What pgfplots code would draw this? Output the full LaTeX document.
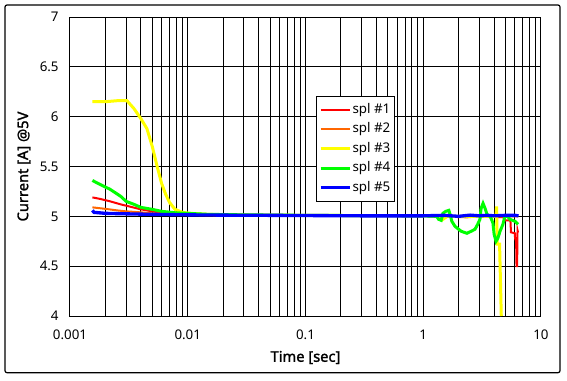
\documentclass[border=0pt]{standalone}
\usepackage{pgfplots}
\pgfplotsset{compat=1.18}
\usepackage{fontspec}
\setmainfont{Noto Sans}
\newfontfamily\labelfont{Noto Sans}[FakeBold=1.6]
\definecolor{cRed}{RGB}{255,0,0}
\definecolor{cOrange}{RGB}{255,102,0}
\definecolor{cYellow}{RGB}{255,255,0}
\definecolor{cGreen}{RGB}{0,255,0}
\definecolor{cBlue}{RGB}{0,0,255}
\begin{document}
\begin{tikzpicture}
\useasboundingbox (-52.5pt,-48pt) rectangle (372.75pt,237pt);
\draw[line width=0.9pt, rounded corners=1.5pt] (-48.75pt,-42.5pt) rectangle (367.5pt,233.25pt);
\begin{axis}[
  scale only axis,
  width=353.25pt, height=224.25pt,
  xmode=log,
  xmin=0.001, xmax=10,
  ymin=4, ymax=7,
  xtick={0.001,0.01,0.1,1,10},
  xticklabels={0.001,0.01,0.1,1,10},
  ytick={4,4.5,5,5.5,6,6.5,7},
  yticklabels={4,4.5,5,5.5,6,6.5,7},
  grid=both,
  major grid style={black, line width=0.75pt},
  minor grid style={black, line width=0.75pt},
  axis line style={black, line width=0.75pt},
  major tick length=0pt, minor tick length=0pt,
  tick label style={font=\fontsize{10}{12}\selectfont},
  xticklabel style={yshift=-7pt},
  yticklabel style={xshift=-5pt},
  /pgf/number format/assume math mode=true,
  every axis x label/.style={at={(axis description cs:0.5,-0.1388)}, anchor=center, font=\fontsize{11}{13}\selectfont\labelfont},
  every axis y label/.style={at={(axis description cs:-0.0977,0.5)}, anchor=center, rotate=90, font=\fontsize{11}{13}\selectfont\labelfont},
  xlabel={Time [sec]},
  ylabel={Current [A] @5V},
  legend cell align=left,
  legend style={at={(axis description cs:0.5217,0.7358)}, anchor=north west,
    draw=black, line width=0.75pt, fill=white,
    font=\fontsize{10}{12}\selectfont,
    inner xsep=2pt, inner ysep=4pt, row sep=2.6pt,
    nodes={inner sep=1pt, text height=7.5pt, text depth=2.5pt}},
  legend image code/.code={\draw[#1] (0pt,0pt) -- (21.75pt,0pt);},
]
\addplot[cRed, line width=1.5pt] coordinates {
(0.00155,5.19) (0.0018,5.175) (0.0022,5.15) (0.0027,5.12) (0.0033,5.095)
(0.004,5.07) (0.005,5.05) (0.006,5.035) (0.008,5.025) (0.012,5.015)
(0.02,5.01) (0.1,5.01) (1,5.005) (2,5.0) (3,5.0) (4.9,4.99) (4.95,4.96)
(5.5,4.96) (5.56,4.84) (6.0,4.83) (6.02,4.78) (6.15,4.75) (6.2,4.5)
(6.27,4.5) (6.32,4.86) (6.38,4.84)
};
\addlegendentry{spl \#1}
\addplot[cOrange, line width=1.5pt] coordinates {
(0.00155,5.09) (0.002,5.075) (0.0025,5.06) (0.003,5.05) (0.004,5.04)
(0.005,5.03) (0.007,5.02) (0.01,5.015) (0.02,5.01) (1,5.005) (2.35,4.99)
(3,5.0) (6.38,5.0)
};
\addlegendentry{spl \#2}
\addplot[cYellow, line width=2.25pt] coordinates {
(0.00155,6.15) (0.002,6.15) (0.0025,6.16) (0.00305,6.16) (0.0035,6.08)
(0.004,5.98) (0.0045,5.88) (0.005,5.7) (0.0055,5.5) (0.006,5.33)
(0.0065,5.22) (0.007,5.14) (0.0078,5.07) (0.009,5.04) (0.0105,5.03)
(0.015,5.02) (0.02,5.015) (0.1,5.01) (1,5.005) (1.44,5.0) (1.47,4.97)
(1.6,5.0) (4.15,5.0) (4.2,5.1) (4.25,4.72) (4.45,4.72) (4.6,4.0)
};
\addlegendentry{spl \#3}
\addplot[cGreen, line width=2.25pt] coordinates {
(0.00155,5.36) (0.0018,5.32) (0.0022,5.27) (0.0027,5.2) (0.003,5.15)
(0.0035,5.12) (0.004,5.09) (0.005,5.07) (0.006,5.05) (0.008,5.035)
(0.01,5.03) (0.015,5.02) (0.03,5.015) (0.1,5.01) (1,5.005) (1.3,5.0)
(1.35,4.97) (1.42,4.96) (1.47,5.03) (1.55,5.05) (1.65,5.06) (1.69,5.02)
(1.75,4.95) (1.86,4.9) (2.0,4.87) (2.1,4.85) (2.35,4.83) (2.55,4.85)
(2.75,4.87) (2.9,4.92) (3.03,4.97) (3.1,5.08) (3.22,5.13) (3.35,5.08)
(3.48,5.02) (3.69,5.0) (3.8,4.97) (3.91,4.93) (4.0,4.82) (4.15,4.75)
(4.3,4.78) (4.49,4.85) (4.75,4.92) (4.94,5.0) (5.2,5.0) (5.45,4.97)
(6.02,4.95) (6.38,4.92)
};
\addlegendentry{spl \#4}
\addplot[cBlue, line width=2.5pt] coordinates {
(0.00155,5.06) (0.0016,5.04) (0.002,5.03) (0.003,5.025) (0.005,5.02)
(0.01,5.015) (0.02,5.012) (0.05,5.01) (0.1,5.008) (0.3,5.005) (1,5.005)
(1.5,5.01) (2,5.0) (2.5,5.012) (3,5.005) (3.5,5.01) (4,5.005) (5,5.01)
(6,5.01) (6.45,5.005)
};
\addlegendentry{spl \#5}
\end{axis}
\end{tikzpicture}
\end{document}
